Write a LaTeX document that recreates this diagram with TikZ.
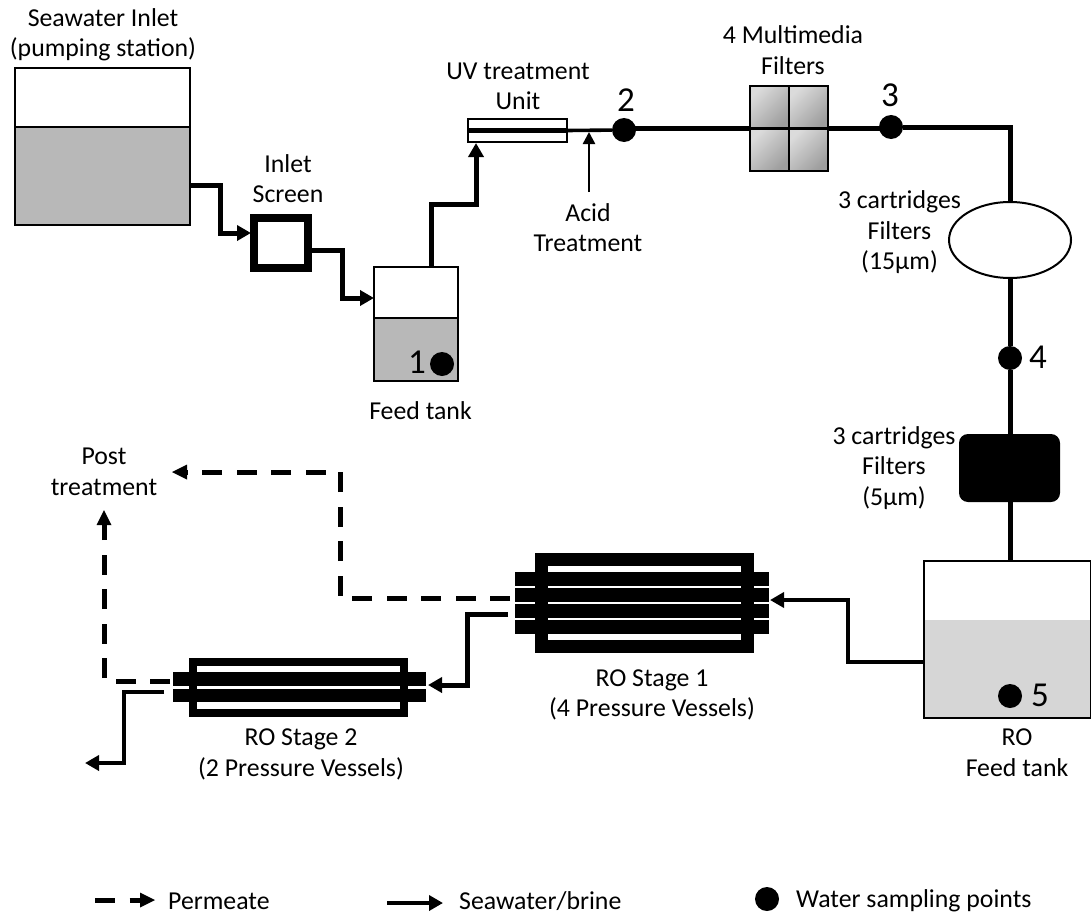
\documentclass[tikz,border=0pt]{standalone}
\usepackage{fontspec}
\setmainfont{Carlito}
\usetikzlibrary{arrows.meta,shapes.geometric}
\tikzset{
  tanktop/.style={draw=black, line width=2pt, fill=white, inner sep=0pt, outer sep=0pt},
  tankwater/.style={draw=black, line width=2pt, fill=black!28, inner sep=0pt, outer sep=0pt},
  pipe/.style={line width=5pt, draw=black, line join=miter},
  pipethin/.style={line width=3.6pt, draw=black, line join=miter},
  flowtip/.style={-{Triangle[length=14pt,width=15pt]}},
  permeate/.style={line width=5pt, draw=black, dash pattern=on 20pt off 14.5pt, -{Triangle[length=15pt,width=15pt,line width=0pt]}},
  sampledot/.style={circle, fill=black, minimum size=24pt, inner sep=0pt},
  caption/.style={font=\fontsize{25.8}{30.5}\selectfont, align=center, inner sep=0pt},
  number/.style={font=\fontsize{35}{35}\selectfont, inner sep=0pt},
  bar/.style={fill=black, draw=none, inner sep=0pt},
  mmcell/.style={draw=black, line width=2.6pt, top color=black!14, bottom color=black!38, shading angle=45, inner sep=0pt, minimum width=39pt, minimum height=42.5pt},
}
\begin{document}
\begin{tikzpicture}[x=1pt, y=-1pt]
\useasboundingbox (0,0) rectangle (1091,915);
% tanks
\node[tanktop, minimum width=175pt, minimum height=59pt] (seatop) at (102.5,97.5) {};
\node[tankwater, minimum width=175pt, minimum height=98pt] (seatank) at (102.5,176) {};
\node[tanktop, minimum width=84pt, minimum height=51pt] (feedtop) at (416,292.5) {};
\node[tankwater, minimum width=84pt, minimum height=63pt] (feedtank) at (416,349.5) {};
\node[fill=black!16, minimum width=167pt, minimum height=98pt, inner sep=0pt] (rotank) at (1007.5,669) {};
\node[draw=black, line width=2pt, minimum width=167pt, minimum height=157pt, inner sep=0pt] (rotop) at (1007.5,639.5) {};
% inlet screen and filters
\node[draw=black, line width=8pt, fill=white, minimum width=54pt, minimum height=50pt, inner sep=0pt] (screen) at (281,243) {};
\node[tanktop, minimum width=99pt, minimum height=23pt] (uvunit) at (517.5,130.5) {};
\node[mmcell] (mma) at (769.5,107.25) {};
\node[mmcell] (mmb) at (808.5,107.25) {};
\node[mmcell] (mmc) at (769.5,149.75) {};
\node[mmcell] (mmd) at (808.5,149.75) {};
\node[ellipse, draw=black, line width=2pt, fill=white, minimum width=122pt, minimum height=76pt, inner sep=0pt] (cartb) at (1010,240) {};
\node[rectangle, rounded corners=9pt, fill=black, minimum width=101pt, minimum height=68pt, inner sep=0pt] (cartc) at (1009.5,468) {};
% RO stage 1
\node[bar, minimum width=254pt, minimum height=14.5pt] (roaa) at (642,579) {};
\node[bar, minimum width=254pt, minimum height=14.5pt] (roab) at (642,595) {};
\node[bar, minimum width=254pt, minimum height=14.5pt] (roac) at (642,611) {};
\node[bar, minimum width=254pt, minimum height=14.5pt] (road) at (642,627) {};
\node[draw=black, line width=13pt, minimum width=206pt, minimum height=87pt, inner sep=0pt] (rostagea) at (644.5,603) {};
% RO stage 2
\node[bar, minimum width=253pt, minimum height=14pt] (roba) at (299.5,679) {};
\node[bar, minimum width=253pt, minimum height=13.5pt] (robb) at (299.5,695.5) {};
\node[draw=black, line width=8.5pt, minimum width=211pt, minimum height=51pt, inner sep=0pt] (rostageb) at (298.5,687.5) {};
% sampling points
\node[sampledot] (ptone) at (442,364) {};
\node[sampledot] (pttwo) at (624,130) {};
\node[sampledot] (ptthree) at (891,127) {};
\node[sampledot] (ptfour) at (1010,358) {};
\node[sampledot] (ptfive) at (1010,696) {};
% ports
\coordinate (seaout) at (190,185);
\coordinate (screenin) at (251,233);
\coordinate (screenout) at (311,250);
\coordinate (feedin) at (374,298);
\coordinate (feedout) at (431,267);
\coordinate (uvin) at (476,143);
\coordinate (uvout) at (567,130.5);
\coordinate (mmin) at (750,128);
\coordinate (mmout) at (828,128);
\coordinate (corner) at (1010,127);
\coordinate (acidin) at (589,192);
\coordinate (acidout) at (589,132);
\coordinate (rotankout) at (924,662);
\coordinate (roain) at (770,600);
\coordinate (robrine) at (508,614);
\coordinate (robin) at (428,685);
\coordinate (robbrine) at (164,692);
\coordinate (brineend) at (85,763);
\coordinate (roperm) at (510,598);
\coordinate (postone) at (172,472);
\coordinate (robperm) at (170,681);
\coordinate (posttwo) at (104,510);
% pipes
\draw[pipe, flowtip] (seaout) -- ++(30,0) |- (screenin);
\draw[pipe, flowtip] (screenout) -- ++(31,0) |- (feedin);
\draw[pipe, flowtip] (feedout) -- ++(0,-63) -| (uvin);
\draw[black, line width=4.5pt] (uvunit.west) -- (uvout);
\draw[pipethin] (uvout) -- (pttwo);
\draw[pipe] (mmin -| pttwo) -- (mmin);
\draw[pipe] (mmout) -- (mmout -| ptthree);
\draw[pipe] (ptthree) -- (corner) -- (cartb.north);
\draw[pipe] (cartb.south) -- (ptfour);
\draw[pipe] (ptfour) -- (cartc.north -| ptfour);
\draw[pipe] (cartc.south -| ptfour) -- (rotop.north -| ptfour);
\draw[line width=2.4pt, -{Triangle[length=12pt,width=12pt]}] (acidin) -- (acidout);
\draw[pipethin, flowtip] (rotankout) -- ++(-76,0) |- (roain);
\draw[pipe, flowtip] (robrine) -- ++(-41,0) |- (robin);
\draw[pipethin, flowtip] (robbrine) -- ++(-40,0) |- (brineend);
\draw[permeate] (roperm) -- ++(-170,0) |- (postone);
\draw[permeate] (robperm) -- ++(-66,0) -- (posttwo);
% labels
\node[caption] (lsea) at (103,35) {Seawater Inlet\\(pumping station)};
\node[caption] (lscreen) at (288,178.5) {Inlet\\Screen};
\node[caption] (lfeed) at (420.5,411) {Feed tank};
\node[caption] (luv) at (518,86.5) {UV treatment\\Unit};
\node[caption] (lacid) at (588,227.5) {Acid\\Treatment};
\node[caption] (lmm) at (793,50) {4 Multimedia\\Filters};
\node[caption] (lcartb) at (899.5,232.5) {3 cartridges\\Filters\\(15µm)};
\node[caption] (lcartc) at (894,468) {3 cartridges\\Filters\\(5µm)};
\node[caption] (lpost) at (104,472) {Post\\treatment};
\node[caption] (lroa) at (652,695) {RO Stage 1\\(4 Pressure Vessels)};
\node[caption] (lrob) at (301,754.5) {RO Stage 2\\(2 Pressure Vessels)};
\node[caption] (lrotank) at (1017,752.5) {RO\\Feed tank};
\node[number] (none) at (417,362) {1};
\node[number] (ntwo) at (626,100) {2};
\node[number] (nthree) at (890,95) {3};
\node[number] (nfour) at (1038,357) {4};
\node[number] (nfive) at (1040,695) {5};
% legend
\coordinate (keypa) at (95,900);
\coordinate (keypb) at (155,900);
\coordinate (keysa) at (387,903);
\coordinate (keysb) at (443,903);
\draw[permeate] (keypa) -- (keypb);
\draw[pipethin, flowtip] (keysa) -- (keysb);
\node[sampledot] (keydot) at (767,899) {};
\node[caption, anchor=west] (lkeyp) at (168,901) {Permeate};
\node[caption, anchor=west] (lkeys) at (459,901) {Seawater/brine};
\node[caption, anchor=west] (lkeyd) at (796,901) {Water sampling points};
\end{tikzpicture}
\end{document}
